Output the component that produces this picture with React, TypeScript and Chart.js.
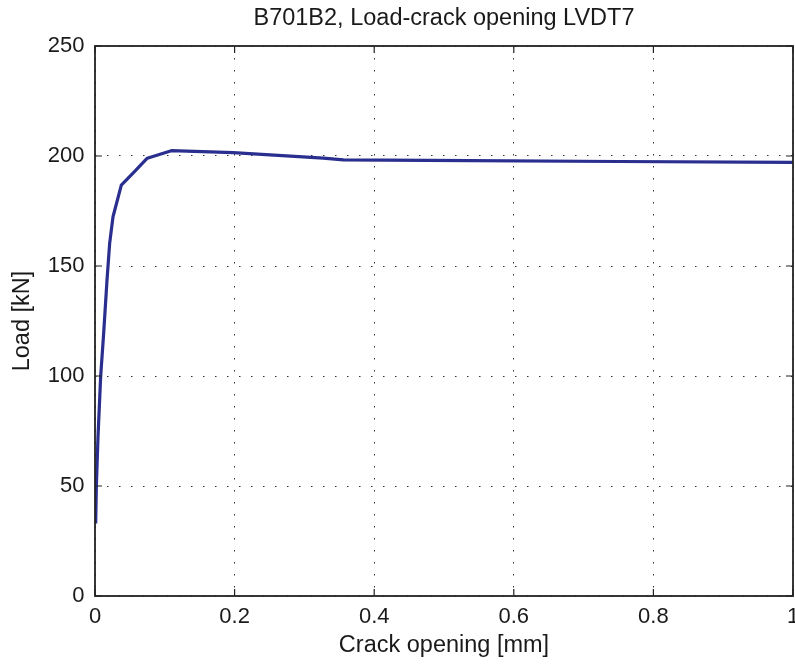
import React, { useEffect, useRef } from "react";
import { Chart, registerables } from "chart.js";

Chart.register(...registerables);

const titleText = "B701B2, Load-crack opening LVDT7";
const xLabel = "Crack opening [mm]";
const yLabel = "Load [kN]";

const xTicks = [0, 0.2, 0.4, 0.6, 0.8, 1];
const xTickLabels = ["0", "0.2", "0.4", "0.6", "0.8", "1"];
const yTicks = [0, 50, 100, 150, 200, 250];
const yTickLabels = ["0", "50", "100", "150", "200", "250"];

const crackOpening = [
  0.001, 0.0019, 0.0043, 0.0081, 0.0124, 0.0172, 0.021, 0.0258, 0.0377, 0.0569,
  0.0749, 0.1093, 0.198, 0.327, 0.356, 0.537, 0.75, 1.0,
];
const load = [
  33, 49.7, 72.4, 99.7, 119.4, 143.6, 160.3, 172.4, 186.8, 193.0, 199, 202.4,
  201.5, 199, 198.2, 197.9, 197.5, 197.1,
];

const FONT = "'Liberation Sans', Arial, Helvetica, sans-serif";
const TEXT = "#1a1a1a";

const framePlugin = {
  id: "matlabFrame",
  afterDraw(chart: any) {
    const { ctx, chartArea } = chart;
    const { left, right, top, bottom } = chartArea;
    const xs = chart.scales.x;
    const ys = chart.scales.y;
    const tl = 7;
    ctx.save();
    ctx.strokeStyle = "#222";
    ctx.lineWidth = 1.2;
    ctx.beginPath();
    xTicks.forEach((v) => {
      const px = xs.getPixelForValue(v);
      ctx.moveTo(px, bottom);
      ctx.lineTo(px, bottom - tl);
      ctx.moveTo(px, top);
      ctx.lineTo(px, top + tl);
    });
    yTicks.forEach((v) => {
      const py = ys.getPixelForValue(v);
      ctx.moveTo(left, py);
      ctx.lineTo(left + tl, py);
      ctx.moveTo(right, py);
      ctx.lineTo(right - tl, py);
    });
    ctx.stroke();
    ctx.lineWidth = 1.8;
    ctx.strokeRect(left, top, right - left, bottom - top);
    ctx.restore();
  },
};

export default function App() {
  const ref = useRef<HTMLCanvasElement | null>(null);
  useEffect(() => {
    if (!ref.current) return;
    const data = crackOpening.map((x, i) => ({ x, y: load[i] }));
    const chart = new Chart(ref.current, {
      type: "scatter",
      data: {
        datasets: [
          {
            data,
            showLine: true,
            borderColor: "#2a2e8e",
            backgroundColor: "#2a2e8e",
            borderWidth: 3.2,
            pointRadius: 0,
            tension: 0,
            borderJoinStyle: "round",
          },
        ],
      },
      options: {
        responsive: false,
        animation: false,
        layout: { padding: { left: 0, right: 2, top: 0, bottom: 0 } },
        plugins: {
          legend: { display: false },
          tooltip: { enabled: false },
          title: {
            display: true,
            fullSize: false,
            text: titleText,
            color: TEXT,
            font: { family: FONT, size: 23.5, weight: "normal" },
            padding: { top: 4, bottom: 13.8 },
          },
        },
        scales: {
          x: {
            type: "linear",
            min: 0,
            max: 1,
            afterBuildTicks: (s: any) => {
              s.ticks = xTicks.map((v) => ({ value: v }));
            },
            afterFit: (s: any) => {
              s.height = 70;
              s.paddingLeft = 0;
              s.paddingRight = 0;
            },
            ticks: {
              color: TEXT,
              font: { family: FONT, size: 22 },
              padding: 8,
              maxRotation: 0,
              autoSkip: false,
              callback: (v: any) => {
                const i = xTicks.findIndex((t) => Math.abs(t - v) < 1e-9);
                return i >= 0 ? xTickLabels[i] : "";
              },
            },
            grid: {
              drawTicks: false,
              color: "#333",
              lineWidth: 1,
            },
            border: { display: false, dash: [1.5, 10.5] },
            title: {
              display: true,
              text: xLabel,
              color: TEXT,
              font: { family: FONT, size: 23.5 },
              padding: { top: 0, bottom: 6 },
            },
          },
          y: {
            type: "linear",
            min: 0,
            max: 250,
            afterBuildTicks: (s: any) => {
              s.ticks = yTicks.map((v) => ({ value: v }));
            },
            afterFit: (s: any) => {
              s.width = 95;
              s.paddingTop = 0;
              s.paddingBottom = 0;
            },
            ticks: {
              color: TEXT,
              font: { family: FONT, size: 22 },
              padding: 10.5,
              autoSkip: false,
              callback: (v: any) => {
                const i = yTicks.findIndex((t) => Math.abs(t - v) < 1e-9);
                return i >= 0 ? yTickLabels[i] : "";
              },
            },
            grid: {
              drawTicks: false,
              color: "#333",
              lineWidth: 1,
            },
            border: { display: false, dash: [1.5, 10.5] },
            title: {
              display: true,
              text: yLabel,
              color: TEXT,
              font: { family: FONT, size: 23.5 },
              padding: { top: 8.4, bottom: 0 },
            },
          },
        },
      },
      plugins: [framePlugin],
    });
    return () => chart.destroy();
  }, []);
  return (
    <div style={{ position: "absolute", left: 0, top: 0, width: 795, height: 666, background: "#fff" }}>
      <canvas ref={ref} width={795} height={666} style={{ display: "block" }} />
    </div>
  );
}
